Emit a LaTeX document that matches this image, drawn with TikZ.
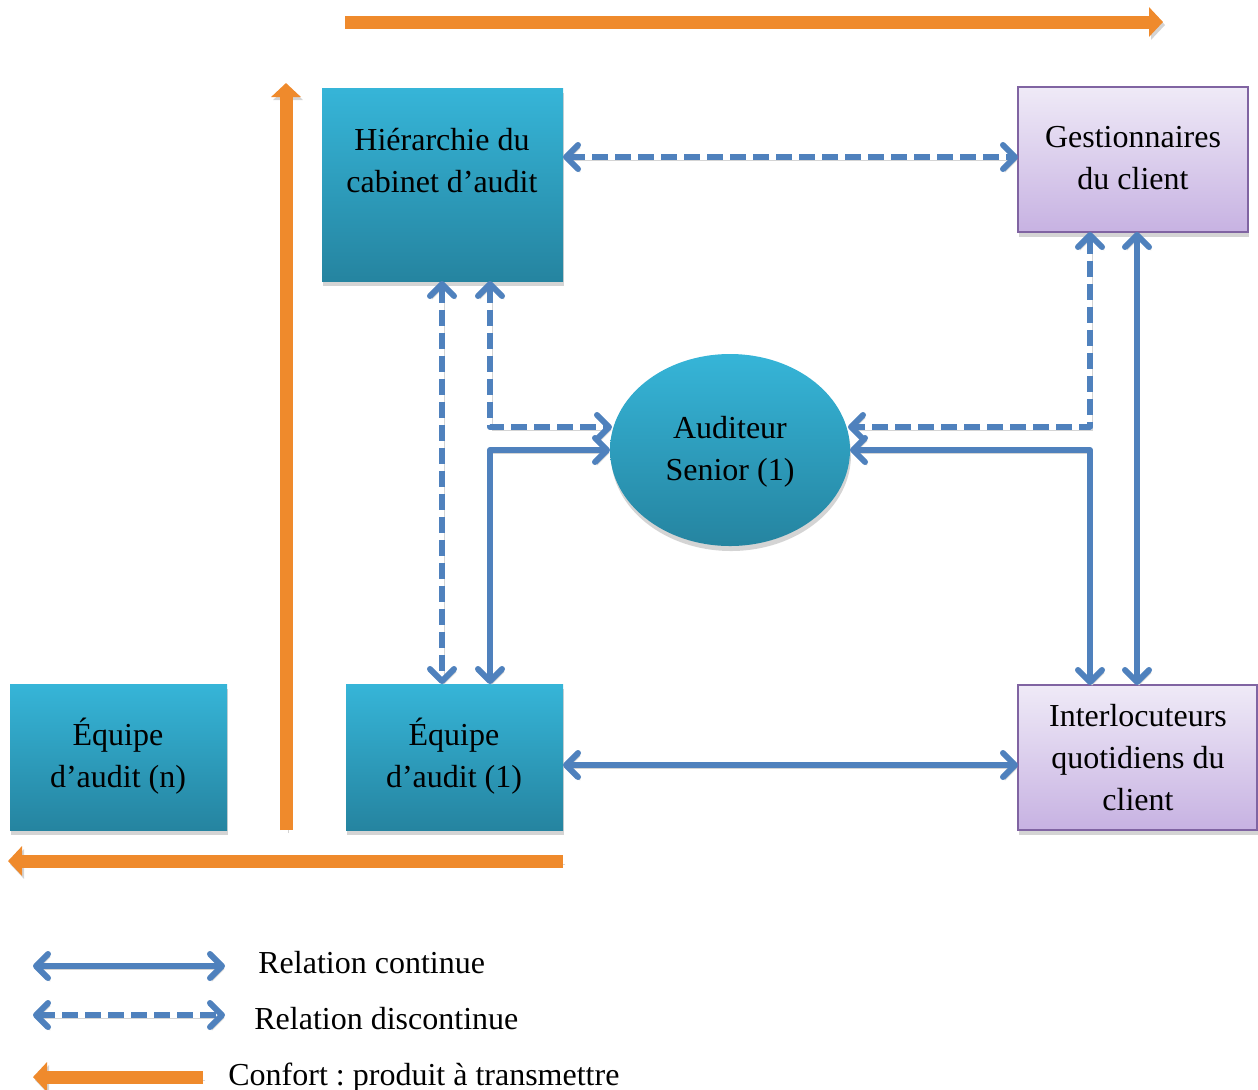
\documentclass[tikz,border=0pt]{standalone}
\usepackage{fontspec}
\setmainfont{Liberation Serif}
\frenchspacing
\usetikzlibrary{arrows.meta,calc,shapes.geometric}
\definecolor{relblue}{HTML}{4F81BD}
\definecolor{btop}{HTML}{36B5D8}
\definecolor{bbot}{HTML}{2584A0}
\definecolor{ltop}{HTML}{EFEAF7}
\definecolor{lbot}{HTML}{C7B2E2}
\definecolor{lborder}{HTML}{8064A2}
\definecolor{orng}{HTML}{EF8A2C}
\definecolor{shad}{HTML}{D4D4D4}
\tikzset{
  boxshadow/.style={preaction={fill=shad, transform canvas={xshift=0.5pt,yshift=-2.5pt}}},
  bluebox/.style={rectangle, inner sep=0pt, outer sep=0pt, top color=btop, bottom color=bbot, draw=none, boxshadow},
  lavbox/.style={rectangle, inner sep=0pt, outer sep=0pt, top color=ltop, bottom color=lbot, draw=lborder, line width=1pt, boxshadow},
  blueell/.style={ellipse, inner sep=0pt, outer sep=0pt, top color=btop, bottom color=bbot, draw=none, boxshadow},
  txt/.style={align=center, inner sep=0pt, font=\fontsize{16}{21}\selectfont},
  legtxt/.style={inner sep=0pt, anchor=base west, font=\fontsize{16}{21}\selectfont},
  lineshadow/.style={preaction={draw=shad, transform canvas={xshift=1pt,yshift=-1.5pt}}},
  rel/.style={draw=relblue, line width=3pt, line join=round,
    {Straight Barb[length=6pt,width=12pt,round]}-{Straight Barb[length=6pt,width=12pt,round]}, lineshadow},
  drel/.style={rel, dash pattern=on 8pt off 3.5pt},
  conf/.style={draw=orng, line width=6.5pt, -{Triangle[length=7pt,width=14.5pt]}, lineshadow}
}
\begin{document}
\begin{tikzpicture}[x=0.5pt,y=-0.5pt]
\useasboundingbox (0,0) rectangle (1258,1089);

% orange arrows
\coordinate (ta) at (345,22);
\coordinate (tb) at (1163,22);
\coordinate (va) at (286,830);
\coordinate (vb) at (286,83);
\coordinate (ba) at (563,861);
\coordinate (bb) at (8,861);
\draw[conf] (ta) -- (tb);
\draw[conf] (va) -- (vb);
\draw[conf] (ba) -- (bb);

% boxes
\node[bluebox, minimum width=120.5pt, minimum height=96.5pt] (hier) at (442.5,184.5) {};
\node[lavbox, minimum width=115pt, minimum height=72.5pt] (gest) at (1133,159.5) {};
\node[blueell, minimum width=120pt, minimum height=96pt] (ell) at (730,450) {};
\node[bluebox, minimum width=108.5pt, minimum height=73pt] (eqn) at (118.5,757) {};
\node[bluebox, minimum width=108.5pt, minimum height=73pt] (eq1) at (454.5,757) {};
\node[lavbox, minimum width=119.5pt, minimum height=72.5pt] (inter) at (1137.5,757.5) {};

% texts
\node[txt] (hiert) at (442,161) {Hiérarchie du\\cabinet d’audit};
\node[txt] (gestt) at (1133,158) {Gestionnaires\\du client};
\node[txt] (ellt) at (730,452) {Auditeur\\Senior (1)};
\node[txt] (eqnt) at (118,756) {Équipe\\d’audit (n)};
\node[txt] (eq1t) at (454,756) {Équipe\\d’audit (1)};
\node[txt] (intert) at (1138,758) {Interlocuteurs\\quotidiens du\\client};

% connectors
\coordinate (a1) at ($(hier.north east)+(0,69)$);
\draw[drel] (a1) -- (a1 -| gest.west);

\coordinate (b1) at ($(hier.south west)+(120,0)$);
\draw[drel] (b1) -- (b1 |- eq1.north);

\coordinate (c1) at ($(hier.south west)+(168,0)$);
\coordinate (c2) at ($(ell.center)+(-118,-23)$);
\draw[drel] (c1) |- (c2);

\coordinate (e1) at ($(eq1.north west)+(144,0)$);
\draw[rel] (e1) |- (ell.west);

\coordinate (d1) at ($(gest.south west)+(72,0)$);
\coordinate (d2) at ($(ell.center)+(118,-23)$);
\draw[drel] (d1) |- (d2);

\coordinate (f1) at ($(inter.north west)+(72,0)$);
\draw[rel] (ell.east) -| (f1);

\coordinate (g1) at ($(gest.south west)+(119,0)$);
\draw[rel] (g1) -- (g1 |- inter.north);

\coordinate (h1) at ($(eq1.east)+(0,8)$);
\draw[rel] (h1) -- (h1 -| inter.west);

% legend
\coordinate (l1a) at (33,966);
\coordinate (l1b) at (225,966);
\draw[rel] (l1a) -- (l1b);
\node[legtxt] (l1t) at (258,973) {Relation continue};
\coordinate (l2a) at (33,1015);
\coordinate (l2b) at (225,1015);
\draw[drel] (l2a) -- (l2b);
\node[legtxt] (l2t) at (254,1029) {Relation discontinue};
\coordinate (l3a) at (203,1077);
\coordinate (l3b) at (33,1077);
\draw[conf] (l3a) -- (l3b);
\node[legtxt] (l3t) at (228,1085) {Confort : produit à transmettre};
\end{tikzpicture}
\end{document}
